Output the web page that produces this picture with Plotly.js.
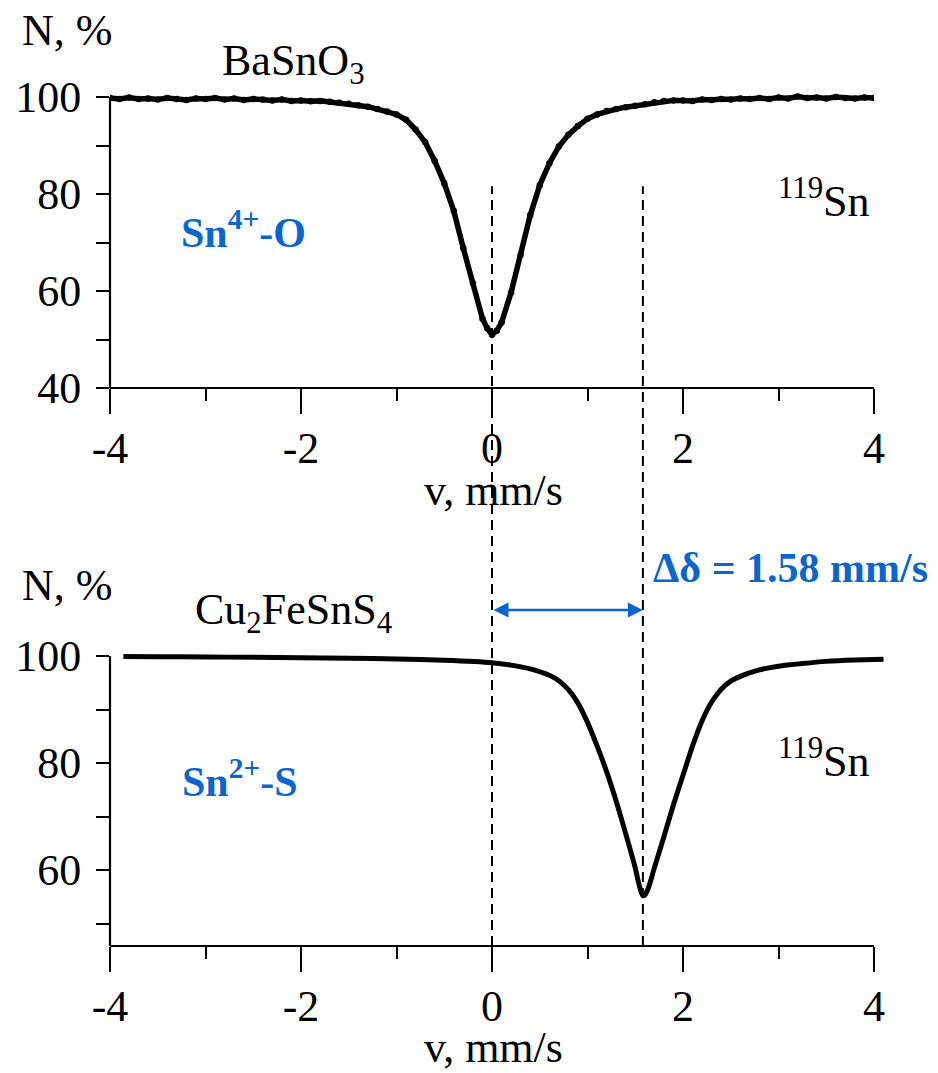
<!DOCTYPE html>
<html>
<head>
<meta charset="utf-8">
<script src="https://cdn.plot.ly/plotly-3.0.1.min.js"></script>
<style>html,body{margin:0;padding:0;background:#fff;}#chart{width:938px;height:1073px;}</style>
</head>
<body>
<div id="chart"></div>
<script>
// ---- data: BaSnO3 (top) ----
const vTop = [-4.0,-3.9,-3.8,-3.7,-3.6,-3.5,-3.4,-3.3,-3.2,-3.1,-3.0,-2.9,-2.8,-2.7,-2.6,-2.5,-2.4,-2.3,-2.2,-2.1,
  -2.0,-1.9,-1.8,-1.7,-1.6,-1.5,-1.4,-1.3,-1.2,-1.1,-1.0,-0.9,-0.8,-0.7,-0.6,-0.5,-0.4,-0.3,-0.2,-0.1,-0.05,
  0.0,0.05,0.1,0.2,0.3,0.4,0.5,0.6,0.7,0.8,0.9,1.0,1.1,1.2,1.3,1.4,1.5,1.6,1.7,1.8,1.9,
  2.0,2.1,2.2,2.3,2.4,2.5,2.6,2.7,2.8,2.9,3.0,3.1,3.2,3.3,3.4,3.5,3.6,3.7,3.8,3.9,4.0];
const nTop = [99.8,99.6,99.9,99.6,99.7,99.5,99.8,99.6,99.4,99.7,99.6,99.8,99.5,99.7,99.4,99.6,99.5,99.3,99.5,99.2,
  99.3,99.1,99.2,99.0,98.8,98.6,98.3,98.0,97.5,97.0,96.4,95.3,93.3,90.7,86.8,82.2,76.5,68.8,61.6,54.3,52.3,
  51.0,51.8,53.5,59.7,67.4,75.6,81.8,86.3,89.8,92.2,94.0,95.5,96.4,97.1,97.5,97.9,98.2,98.5,98.9,99.2,99.3,
  99.3,99.2,99.5,99.4,99.6,99.5,99.7,99.6,99.8,99.6,99.9,99.7,100.1,99.8,99.9,99.7,100.0,99.8,99.7,99.9,99.8];

// ---- data: Cu2FeSnS4 (bottom) ----
const vBot = [-3.86,-3.5,-3.0,-2.5,-2.0,-1.5,-1.0,-0.5,0.0,0.2,0.4,0.6,0.7,0.8,0.9,1.0,1.1,1.2,1.3,1.4,1.5,1.53,1.56,1.58,
  1.6,1.63,1.66,1.7,1.8,1.9,2.0,2.1,2.2,2.3,2.4,2.5,2.6,2.8,3.0,3.25,3.5,3.8,4.1];
const nBot = [99.9,99.88,99.82,99.77,99.7,99.6,99.45,99.2,98.75,98.3,97.6,96.4,95.4,93.7,91.2,87.6,83.2,78.4,72.9,66.8,60.4,58.0,56.0,55.2,
  55.3,56.3,57.9,60.4,66.2,72.2,77.7,83.2,87.9,91.4,93.8,95.3,96.2,97.4,98.1,98.6,99.0,99.25,99.4];

const xTicks = [-4,-2,0,2,4];
const yTicksTop = [40,60,80,100];
const yTicksBot = [60,80,100];
const shiftA = 0;      // BaSnO3 line position, mm/s
const shiftB = 1.58;   // Cu2FeSnS4 line position, mm/s

const FONT = 'Liberation Serif';
const BLUE = '#0a66cc';
const W = 938, H = 1073;

// layout geometry
const xDomTop = [110/W, 874/W];
const xRangeTop = [-4, 4];
const xRangeBot = [-4, 4.15];
const xDomBot = [110/W, (874 + 0.15*95.5)/W];
const yRangeTop = [40, 102];
const yDomTop = [(H-388)/H, (H-87.3)/H];
const yRangeBot = [45.8, 101.5];
const yDomBot = [(H-946)/H, (H-648)/H];

function py(v, dom, rng){ return dom[0] + (v - rng[0])/(rng[1]-rng[0])*(dom[1]-dom[0]); }

const tickFont = {family: FONT, size: 44, color: '#000'};

function xAxis(dom, rng, anchor){
  return {domain: dom, range: rng, anchor: anchor, showline: false, showgrid: false, zeroline: false,
    automargin: false,
    ticks: 'outside', ticklen: 25, tickwidth: 2, tickcolor: '#000',
    tickvals: xTicks, ticktext: xTicks.map(String),
    minor: {ticks: 'outside', tick0: -4, dtick: 1, ticklen: 12, tickwidth: 2, tickcolor: '#000', showgrid: false},
    tickfont: tickFont, ticklabelstandoff: -4};
}
function yAxis(dom, rng, anchor, tv){
  return {domain: dom, range: rng, anchor: anchor, showline: false, showgrid: false, zeroline: false,
    automargin: false,
    ticks: 'outside', ticklen: 13, tickwidth: 2, tickcolor: '#000',
    tickvals: tv, ticktext: tv.map(String),
    minor: {ticks: 'outside', tick0: 40, dtick: 10, ticklen: 13, tickwidth: 2, tickcolor: '#000', showgrid: false},
    tickfont: tickFont, ticklabelstandoff: 6};
}

const traces = [
  {x: vTop, y: nTop, xaxis: 'x', yaxis: 'y', type: 'scatter', mode: 'lines+markers',
   line: {color: '#000', width: 5.5}, marker: {color: '#000', size: 6.5}, hoverinfo: 'skip', showlegend: false},
  {x: vBot, y: nBot, xaxis: 'x2', yaxis: 'y2', type: 'scatter', mode: 'lines',
   line: {color: '#000', width: 5, shape: 'spline', smoothing: 0.6}, hoverinfo: 'skip', showlegend: false}
];

const dashTopVal = 81.6; // top of dashed guide lines (top-panel N units)
const axisLine = {color: '#000', width: 2.2};
const dashLine = {color: '#000', width: 2, dash: '10px,6px'};
const shapes = [
  // axis frames
  {type: 'line', xref: 'x', yref: 'paper', x0: -4, x1: 4, y0: yDomTop[0], y1: yDomTop[0], line: axisLine},
  {type: 'line', xref: 'paper', yref: 'y', x0: xDomTop[0], x1: xDomTop[0], y0: 40, y1: 100, line: axisLine},
  {type: 'line', xref: 'x2', yref: 'paper', x0: -4, x1: 4, y0: yDomBot[0], y1: yDomBot[0], line: axisLine},
  {type: 'line', xref: 'paper', yref: 'y2', x0: xDomBot[0], x1: xDomBot[0], y0: yRangeBot[0], y1: 100, line: axisLine},
  // dashed guide lines spanning both panels
  {type: 'line', xref: 'x', yref: 'paper', x0: shiftA, x1: shiftA, y0: yDomBot[0], y1: py(dashTopVal, yDomTop, yRangeTop), line: dashLine},
  {type: 'line', xref: 'x', yref: 'paper', x0: shiftB, x1: shiftB, y0: yDomBot[0], y1: py(dashTopVal, yDomTop, yRangeTop), line: dashLine}
];

function pxY(p){ return (H - p)/H; }
function note(text, xpx, ypx, opts){
  return Object.assign({text: text, xref: 'paper', yref: 'paper', x: xpx/W, y: pxY(ypx),
    xanchor: 'left', yanchor: 'middle', showarrow: false,
    font: {family: FONT, size: 44, color: '#000'}}, opts || {});
}
const annotations = [
  note('N, %', 20, 31),
  note('BaSnO<sub>3</sub>', 220, 63),
  note('<sup>119</sup>Sn', 776, 198),
  note('<b>Sn<sup>4+</sup>-O</b>', 179, 230, {font: {family: FONT, size: 42, color: BLUE}}),
  note('v, mm/s', 493, 490, {xanchor: 'center'}),
  note('N, %', 20, 585),
  note('Cu<sub>2</sub>FeSnS<sub>4</sub>', 193, 612),
  note('<b>Δδ = 1.58 mm/s</b>', 651, 568, {font: {family: FONT, size: 42, color: BLUE}}),
  note('<sup>119</sup>Sn', 776, 758),
  note('<b>Sn<sup>2+</sup>-S</b>', 180, 778, {font: {family: FONT, size: 42, color: BLUE}}),
  note('v, mm/s', 493, 1047, {xanchor: 'center'}),
  {text: '', xref: 'x2', yref: 'paper', x: shiftB, y: pxY(610), axref: 'x2', ayref: 'pixel', ax: shiftA, ay: 0,
   showarrow: true, arrowside: 'end+start', arrowhead: 2, startarrowhead: 2, arrowsize: 1.2, startarrowsize: 1.2,
   arrowwidth: 2.5, arrowcolor: BLUE, standoff: 0, startstandoff: 0}
];

const layout = {
  width: W, height: H, margin: {l: 0, r: 0, t: 0, b: 0},
  paper_bgcolor: '#fff', plot_bgcolor: '#fff', showlegend: false,
  font: {family: FONT, size: 44, color: '#000'},
  xaxis: xAxis(xDomTop, xRangeTop, 'y'),
  yaxis: yAxis(yDomTop, yRangeTop, 'x', yTicksTop),
  xaxis2: xAxis(xDomBot, xRangeBot, 'y2'),
  yaxis2: yAxis(yDomBot, yRangeBot, 'x2', yTicksBot),
  shapes: shapes,
  annotations: annotations
};

Plotly.newPlot('chart', traces, layout, {displayModeBar: false, staticPlot: true});
</script>
</body>
</html>
